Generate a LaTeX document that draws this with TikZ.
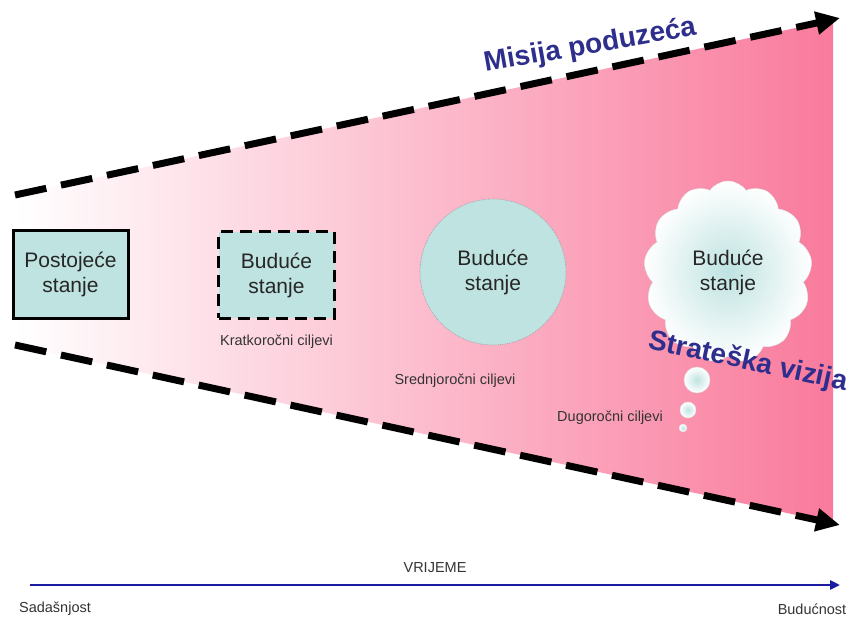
\documentclass[tikz,border=0pt]{standalone}
\usepackage{fontspec}
\setmainfont{Liberation Sans}
\usetikzlibrary{positioning,arrows.meta,shapes.symbols}
\definecolor{statefill}{HTML}{BEE3E1}
\definecolor{funnelpink}{HTML}{F97A9C}
\definecolor{titleblue}{HTML}{2E2E8C}
\definecolor{timeblue}{HTML}{1C1CA0}

\begin{document}
\begin{tikzpicture}[
  x=1pt, y=-1pt,
  state/.style={fill=statefill, align=center, text=black!85, inner sep=0pt,
                font=\fontsize{21}{25}\selectfont},
  tag/.style={font=\fontsize{14.5}{16}\selectfont, text=black!80},
  title/.style={font=\bfseries\fontsize{28}{30}\selectfont, text=titleblue},
  edgeline/.style={line width=7pt, dash pattern=on 32pt off 15pt,
                   -{Triangle[length=24pt,width=22pt]}},
  bubble/.style={circle, draw=gray!25, inner sep=0pt, shading=radial,
                 inner color=statefill, outer color=white},
  timeline/.style={line width=2.5pt, timeblue, -{Triangle[length=10pt,width=9pt]}}
]
\useasboundingbox (0,0) rectangle (856,620);

% funnel
\coordinate (topL) at (15,195);
\coordinate (topR) at (840,18);
\coordinate (botL) at (15,345);
\coordinate (botR) at (840,525);
\shade[left color=white, middle color=funnelpink!55!white, right color=funnelpink]
  (15,195) -- (833,20) -- (833,523) -- (15,345) -- cycle;

% states
\node[state, draw, line width=3pt, minimum width=115pt, minimum height=87pt]
  (now) at (70.5,274.5) {Postojeće\\stanje};
\node[state, draw, line width=3pt, dash pattern=on 12pt off 7pt,
      minimum width=116pt, minimum height=86pt]
  (short) at (276.5,275) {Buduće\\stanje};
\node[tag, below=12pt of short] (shortlbl) {Kratkoročni ciljevi};
\node[state, circle, draw=gray!70, densely dotted, line width=0.8pt, minimum size=146pt]
  (mid) at (493,272) {Buduće\\stanje};
\node[tag] (midlbl) at (455,381) {Srednjoročni ciljevi};
\node[state, cloud, cloud puffs=13, cloud puff arc=110, aspect=0.95,
      draw=gray!20, shading=radial, inner color=statefill, outer color=white,
      minimum width=168pt, minimum height=182pt]
  (long) at (728,272) {Buduće\\stanje};
\node[bubble, minimum size=26pt] (bub1) at (697,380) {};
\node[bubble, minimum size=16pt] (bub2) at (688,410) {};
\node[bubble, minimum size=8pt] (bub3) at (683,428) {};
\node[tag] (longlbl) at (610,418) {Dugoročni ciljevi};

% mission and vision
\draw[edgeline] (topL) -- (topR);
\draw[edgeline] (botL) -- (botR);
\node[title, rotate=10] (mission) at (590,46) {Misija poduzeća};
\node[title, rotate=-12] (vision) at (748,362) {Strateška vizija};

% time axis
\coordinate (start) at (30,585);
\coordinate (end) at (840,585);
\draw[timeline] (start) -- node[tag, above=8pt] (timelbl) {VRIJEME} (end);
\node[tag] (present) at (55,609) {Sadašnjost};
\node[tag] (future) at (812,609) {Budućnost};
\end{tikzpicture}
\end{document}
